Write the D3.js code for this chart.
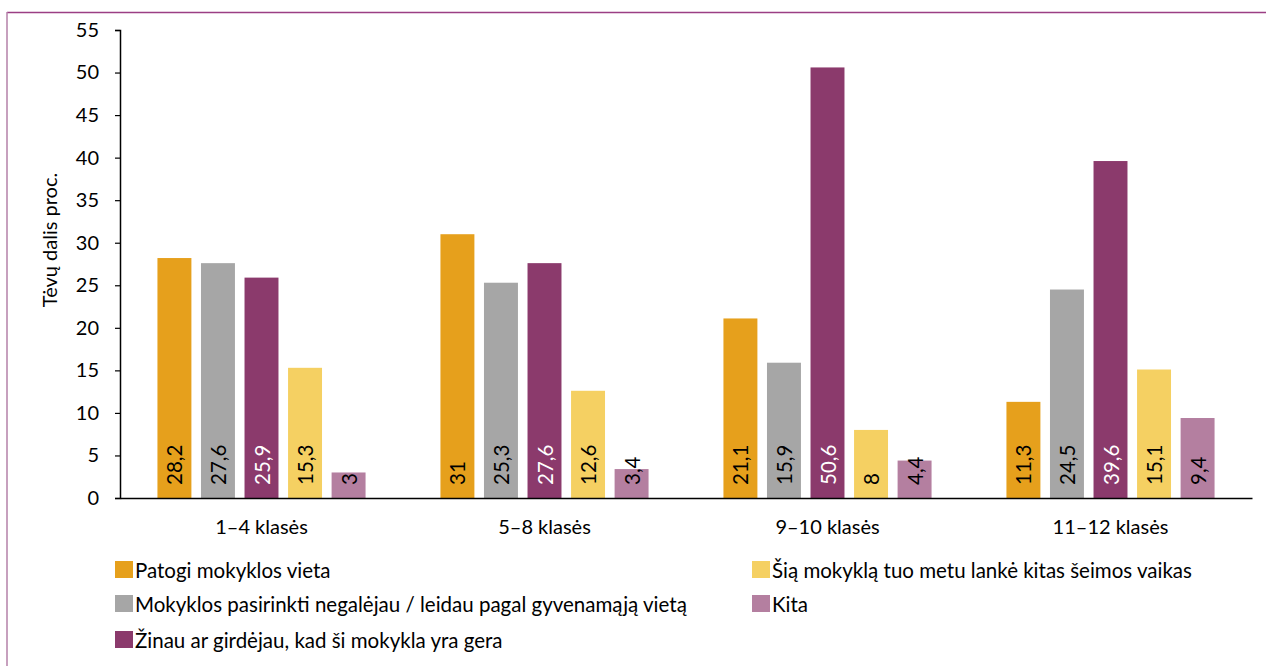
<!DOCTYPE html>
<html>
<head>
<meta charset="utf-8">
<script src="https://cdn.jsdelivr.net/npm/d3@7"></script>
<style>
  html, body { margin: 0; padding: 0; background: #fff; }
  svg { display: block; font-family: Lato, "Open Sans", sans-serif; }
</style>
</head>
<body>
<svg id="chart" width="1266" height="666"></svg>
<script>
const categories = ["1–4 klasės", "5–8 klasės", "9–10 klasės", "11–12 klasės"];
const seriesNames = [
  "Patogi mokyklos vieta",
  "Mokyklos pasirinkti negalėjau / leidau pagal gyvenamąją vietą",
  "Žinau ar girdėjau, kad ši mokykla yra gera",
  "Šią mokyklą tuo metu lankė kitas šeimos vaikas",
  "Kita"
];
const seriesColors = ["#E6A01C", "#A6A6A6", "#8B3A6C", "#F5D062", "#B47FA0"];
const labelColors = ["#000", "#000", "#fff", "#000", "#000"];
const patogi = [28.2, 31, 21.1, 11.3];
const negalejau = [27.6, 25.3, 15.9, 24.5];
const gera = [25.9, 27.6, 50.6, 39.6];
const kitasVaikas = [15.3, 12.6, 8, 15.1];
const kita = [3, 3.4, 4.4, 9.4];
const seriesValues = [patogi, negalejau, gera, kitasVaikas, kita];
const yTicks = [0, 5, 10, 15, 20, 25, 30, 35, 40, 45, 50, 55];
const yTitle = "Tėvų dalis proc.";

(function () {
const svg = d3.select("#chart");
const FONT = "Lato, 'Open Sans', sans-serif";

// frame lines
svg.append("line").attr("x1", 7).attr("x2", 1266).attr("y1", 12.5).attr("y2", 12.5)
  .attr("stroke", "#9B3E84").attr("stroke-width", 1.5);
svg.append("line").attr("x1", 7).attr("x2", 7).attr("y1", 12).attr("y2", 666)
  .attr("stroke", "#B580A8").attr("stroke-width", 1.5);

const mLeft = 120, mRight = 1252, mTop = 30, mBottom = 498;

const x0 = d3.scaleBand().domain(categories).range([mLeft, mRight]).paddingInner(0).paddingOuter(0);
const x1 = d3.scaleBand().domain(d3.range(seriesNames.length)).range([0, x0.bandwidth()])
  .paddingInner(0.22).paddingOuter(0.86);
const y = d3.scaleLinear().domain([0, 55]).range([mBottom, mTop]);

// bars
const groups = svg.append("g").selectAll("g").data(categories).join("g")
  .attr("transform", d => `translate(${x0(d)},0)`);

groups.each(function(cat, ci) {
  const g = d3.select(this);
  seriesValues.forEach((vals, si) => {
    const v = vals[ci];
    g.append("rect")
      .attr("x", x1(si))
      .attr("y", y(v))
      .attr("width", x1.bandwidth())
      .attr("height", y(0) - y(v))
      .attr("fill", seriesColors[si]);
    const cx = x1(si) + x1.bandwidth() / 2;
    g.append("text")
      .attr("transform", `translate(${cx},${mBottom - 13}) rotate(-90)`)
      .attr("text-anchor", "start")
      .attr("dominant-baseline", "central")
      .attr("font-size", 20.5)
      .attr("fill", labelColors[si])
      .text(String(v).replace(".", ","));
  });
});

// y axis
const yAxis = d3.axisLeft(y).tickValues(yTicks).tickSize(5).tickPadding(16);
const ya = svg.append("g").attr("transform", `translate(${mLeft},0)`).call(yAxis);
ya.select(".domain").attr("stroke", "#000").attr("stroke-width", 1.5);
ya.selectAll(".tick line").attr("stroke", "#000").attr("stroke-width", 1.2);
ya.selectAll(".tick text").attr("font-size", 20).attr("fill", "#000")
  .attr("font-family", FONT);

// x axis
const xAxis = d3.axisBottom(x0).tickSize(0).tickPadding(22);
const xa = svg.append("g").attr("transform", `translate(0,${mBottom})`).call(xAxis);
xa.select(".domain").attr("stroke", "#000").attr("stroke-width", 1.5);
xa.selectAll(".tick text").attr("font-size", 20).attr("fill", "#000")
  .attr("font-family", FONT);

// y title
svg.append("text")
  .attr("transform", `translate(49,240) rotate(-90)`)
  .attr("text-anchor", "middle")
  .attr("dominant-baseline", "central")
  .attr("font-size", 20)
  .text(yTitle);

// legend
const legendPos = [
  { x: 115, y: 561 }, { x: 115, y: 595 }, { x: 115, y: 631 },
  { x: 752, y: 561 }, { x: 752, y: 595 }
];
seriesNames.forEach((name, i) => {
  const p = legendPos[i];
  svg.append("rect").attr("x", p.x).attr("y", p.y).attr("width", 18).attr("height", 17)
    .attr("fill", seriesColors[i]);
  svg.append("text").attr("x", p.x + 20).attr("y", p.y + 9)
    .attr("dominant-baseline", "central")
    .attr("font-size", 20.5)
    .text(name);
});
})();
</script>
</body>
</html>
